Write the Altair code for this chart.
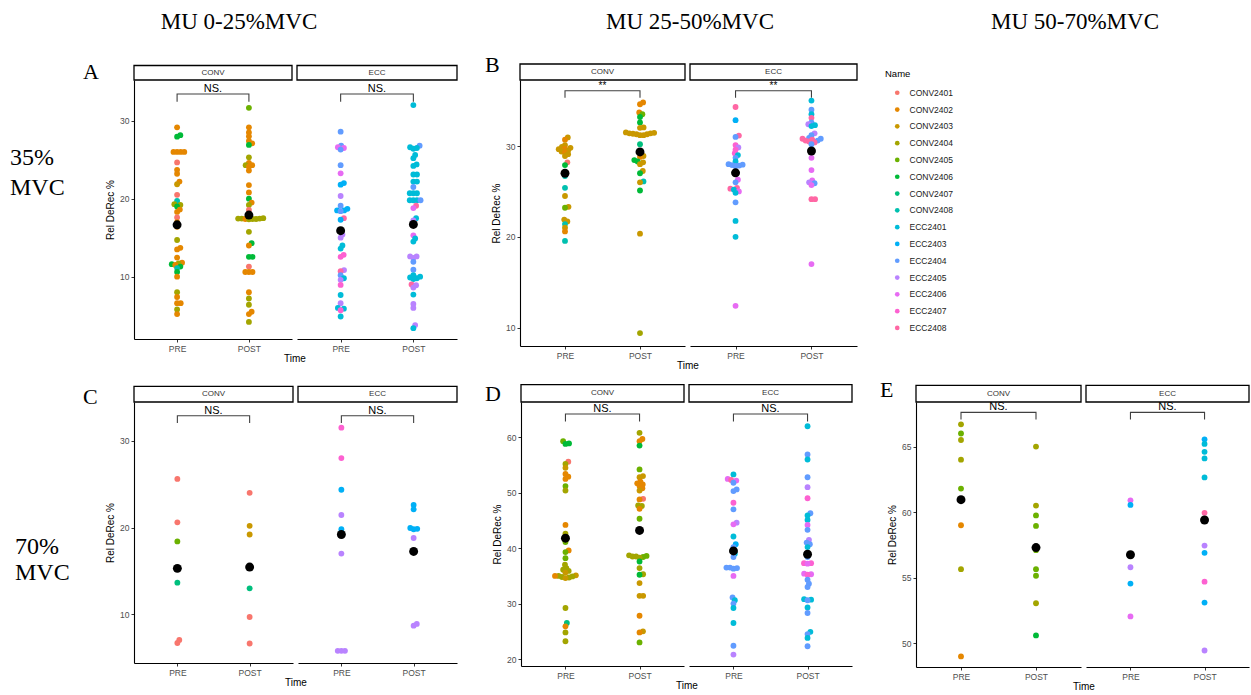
import math
import altair as alt
import pandas as pd

SANS = "Liberation Sans"
SERIF = "Liberation Serif"

NAMES = ["CONV2401", "CONV2402", "CONV2403", "CONV2404", "CONV2405", "CONV2406", "CONV2407", "CONV2408",
         "ECC2401", "ECC2403", "ECC2404", "ECC2405", "ECC2406", "ECC2407", "ECC2408"]
COLORS = ["#F8766D", "#E58700", "#C99800", "#A3A500", "#6BB100", "#00BA38", "#00BF7D", "#00C0AF",
          "#00BCD8", "#00B0F6", "#619CFF", "#B983FF", "#E76BF3", "#FD61D1", "#FF67A4"]
CODES = {"C1": "CONV2401", "C2": "CONV2402", "C3": "CONV2403", "C4": "CONV2404", "C5": "CONV2405",
         "C6": "CONV2406", "C7": "CONV2407", "C8": "CONV2408", "E1": "ECC2401", "E3": "ECC2403",
         "E4": "ECC2404", "E5": "ECC2405", "E6": "ECC2406", "E7": "ECC2407", "E8": "ECC2408"}
TIMES = ["PRE", "POST"]
GROUPS = ["CONV", "ECC"]

# ---------------- data (value, subject) ----------------
A_CONV_PRE = [(29.15, "C2"), (28.15, "C6"), (27.95, "C6"), (26.0, "C2"), (26.0, "C2"), (26.0, "C2"), (26.0, "C2"),
              (24.65, "C1"), (23.7, "C2"), (23.2, "C2"), (22.2, "C2"), (21.85, "C3"), (20.5, "C1"), (19.7, "C8"),
              (19.3, "C4"), (19.2, "C4"), (19.0, "C6"), (18.6, "C2"), (18.3, "C2"), (17.6, "C1"), (17.0, "C2"),
              (16.4, "C2"), (14.7, "C4"), (13.7, "C2"), (13.5, "C2"), (12.45, "C2"), (11.8, "C2"), (11.7, "C4"),
              (11.6, "C6"), (11.5, "C2"), (11.3, "C6"), (11.1, "C8"), (10.6, "C6"), (10.0, "C2"), (8.0, "C4"),
              (7.4, "C2"), (6.6, "C2"), (6.6, "C2"), (5.8, "C4"), (5.2, "C2")]
A_CONV_POST = [(31.65, "C5"), (29.15, "C2"), (28.5, "C2"), (28.0, "C2"), (27.4, "C2"), (27.1, "C2"), (26.9, "C6"),
               (25.3, "C4"), (24.6, "C2"), (24.3, "C2"), (24.3, "C4"), (24.1, "C2"), (23.6, "C2"), (21.75, "C2"),
               (20.8, "C2"), (20.0, "C6"), (19.5, "C2"), (19.2, "C4"), (18.55, "C1"), (17.5, "C4"), (17.45, "C4"),
               (17.45, "C4"), (17.45, "C4"), (17.4, "C4"), (17.4, "C2"), (17.4, "C4"), (17.35, "C4"),
               (15.75, "C4"), (14.3, "C6"), (14.0, "C2"),
               (12.55, "C6"), (12.55, "C6"), (11.3, "C1"), (10.6, "C2"), (10.6, "C2"), (10.6, "C2"), (8.0, "C2"),
               (7.2, "C4"), (6.4, "C4"), (5.5, "C2"), (5.2, "C2"), (4.2, "C4")]
A_ECC_PRE = [(28.6, "E4"), (26.8, "E4"), (26.6, "E6"), (26.5, "E6"), (26.3, "E4"), (24.3, "E4"), (23.25, "E6"),
             (22.0, "E3"), (21.8, "E3"), (20.35, "E5"), (19.1, "E4"), (18.7, "E3"), (18.5, "E3"), (18.5, "E3"),
             (18.4, "E4"), (17.5, "E8"), (17.3, "E3"), (15.4, "E5"), (15.0, "E5"), (14.0, "E1"), (13.6, "E1"),
             (12.8, "E7"), (12.55, "E7"), (10.85, "E5"), (10.7, "E8"), (10.2, "E4"), (9.8, "E1"), (9.6, "E5"),
             (8.95, "E7"), (7.65, "E1"), (6.6, "E5"), (6.0, "E1"), (5.9, "E1"), (5.7, "E7"), (4.9, "E1")]
A_ECC_POST = [(32.0, "E1"), (26.8, "E4"), (26.6, "E1"), (26.5, "E1"), (26.4, "E1"), (25.6, "E1"), (25.2, "E1"),
              (24.4, "E1"), (24.2, "E1"), (23.1, "E1"), (23.1, "E1"), (22.2, "E1"), (22.2, "E1"), (21.5, "E4"),
              (20.7, "E1"), (20.7, "E1"), (20.7, "E1"), (19.8, "E1"), (19.8, "E1"), (19.8, "E1"), (19.8, "E4"),
              (19.1, "E8"), (18.8, "E6"), (17.5, "E1"), (17.2, "E5"), (15.3, "E6"), (14.9, "E1"), (14.5, "E1"),
              (12.6, "E5"), (12.6, "E5"), (12.4, "E5"), (11.9, "E4"), (10.9, "E4"), (10.2, "E1"), (10.0, "E1"),
              (9.9, "E1"), (9.8, "E1"), (9.7, "E1"), (9.0, "E8"), (8.9, "E5"), (8.6, "E5"), (7.7, "E1"),
              (6.5, "E5"), (6.0, "E5"), (3.8, "E5"), (3.4, "E1")]
A_MEANS = [16.65, 17.9, 15.9, 16.7]

B_CONV_PRE = [(30.95, "C3"), (30.7, "C2"), (30.1, "C3"), (29.9, "C3"), (29.8, "C3"), (29.7, "C2"), (29.65, "C3"),
              (29.5, "C3"), (29.4, "C3"), (29.3, "C2"), (29.1, "C3"), (28.9, "C3"), (28.2, "C1"), (27.9, "C6"),
              (26.7, "C8"), (25.4, "C8"), (24.5, "C3"), (23.3, "C3"), (23.2, "C5"), (21.9, "C3"), (21.7, "C3"),
              (21.4, "C8"), (21.0, "C3"), (20.6, "C2"), (19.55, "C8")]
B_CONV_POST = [(34.8, "C2"), (34.6, "C2"), (33.7, "C2"), (33.5, "C5"), (33.2, "C6"), (32.6, "C6"), (32.05, "C3"),
               (32.0, "C3"), (31.5, "C3"), (31.45, "C3"), (31.4, "C3"), (31.4, "C3"), (31.35, "C3"), (31.3, "C3"),
               (31.3, "C3"), (31.2, "C3"), (31.2, "C3"), (30.2, "C7"), (28.9, "C3"), (28.8, "C2"), (28.45, "C6"),
               (28.3, "C6"), (28.2, "C3"), (28.0, "C3"), (27.25, "C3"), (27.0, "C6"), (26.1, "C8"), (26.0, "C3"),
               (25.1, "C6"), (20.35, "C3"), (9.4, "C4")]
B_ECC_PRE = [(34.3, "E8"), (32.85, "E3"), (31.15, "E8"), (31.0, "E4"), (30.1, "E7"), (29.85, "E5"), (29.6, "E7"),
             (29.2, "E7"), (29.0, "E1"), (28.7, "E4"), (28.3, "E1"), (28.0, "E4"), (27.95, "E4"), (27.9, "E4"),
             (27.85, "E4"), (27.8, "E4"), (26.3, "E6"), (26.0, "E4"), (25.4, "E8"), (25.3, "E8"), (25.2, "E1"),
             (25.0, "E6"), (24.85, "E1"), (23.8, "E4"), (21.75, "E1"), (20.0, "E1"), (12.4, "E6")]
B_ECC_POST = [(35.0, "E1"), (34.0, "E4"), (33.5, "E1"), (33.1, "E8"), (32.6, "E4"), (32.4, "E5"), (32.3, "E1"),
              (32.2, "E1"), (31.4, "E5"), (31.2, "E4"), (30.9, "E4"), (30.8, "E8"), (30.8, "E4"), (30.7, "E8"),
              (30.6, "E8"), (30.6, "E4"), (30.5, "E8"), (30.4, "E8"), (30.2, "E4"), (29.3, "E4"), (28.7, "E6"),
              (27.35, "E6"), (26.2, "E6"), (26.0, "E5"), (25.9, "E4"), (25.7, "E6"), (24.15, "E8"), (24.15, "E8"),
              (17.0, "E6")]
B_MEANS = [27.0, 29.35, 27.05, 29.45]

C_CONV_PRE = [(25.6, "C1"), (20.6, "C1"), (18.4, "C5"), (13.65, "C7"), (7.05, "C1"), (6.7, "C1")]
C_CONV_POST = [(24.0, "C1"), (20.2, "C3"), (19.2, "C3"), (13.0, "C7"), (9.7, "C1"), (6.65, "C1")]
C_ECC_PRE = [(31.5, "E7"), (28.0, "E7"), (24.35, "E3"), (21.45, "E5"), (19.8, "E3"), (17.0, "E5"),
             (5.8, "E5"), (5.8, "E5"), (5.8, "E5")]
C_ECC_POST = [(22.6, "E3"), (22.1, "E3"), (19.95, "E3"), (19.85, "E3"), (19.8, "E3"), (18.8, "E5"),
              (8.9, "E5"), (8.7, "E5")]
C_MEANS = [15.3, 15.45, 19.2, 17.25]

D_CONV_PRE = [(59.3, "C5"), (58.9, "C6"), (58.8, "C6"), (55.6, "C1"), (55.2, "C4"), (54.5, "C3"), (53.4, "C2"),
              (52.9, "C2"), (52.5, "C2"), (51.2, "C5"), (50.4, "C4"), (44.2, "C2"), (42.6, "C4"), (41.1, "C5"),
              (39.6, "C2"), (39.3, "C5"), (38.2, "C5"), (37.0, "C4"), (36.4, "C4"), (36.1, "C4"), (35.9, "C4"),
              (35.6, "C3"), (35.1, "C3"), (35.0, "C4"), (35.0, "C2"), (34.9, "C4"), (34.8, "C4"), (34.7, "C4"),
              (34.6, "C3"), (29.2, "C4"), (26.5, "C7"), (25.9, "C2"), (24.8, "C4"), (23.2, "C4")]
D_CONV_POST = [(60.8, "C4"), (59.7, "C2"), (59.3, "C2"), (58.5, "C6"), (54.2, "C5"), (53.0, "C3"), (52.8, "C3"),
               (52.0, "C2"), (51.7, "C2"), (51.5, "C2"), (51.2, "C2"), (50.8, "C2"), (50.4, "C3"), (48.9, "C1"),
               (48.8, "C2"), (47.7, "C4"), (47.6, "C4"), (47.1, "C2"), (45.3, "C5"), (38.7, "C4"), (38.6, "C5"),
               (38.5, "C4"), (38.5, "C4"), (38.4, "C5"), (38.3, "C4"), (37.6, "C6"), (36.4, "C4"), (35.3, "C4"),
               (35.2, "C6"), (33.7, "C3"), (31.4, "C3"), (31.4, "C3"), (27.8, "C2"), (25.0, "C3"), (24.8, "C2"),
               (23.0, "C5")]
D_ECC_PRE = [(53.3, "E1"), (52.5, "E6"), (52.3, "E8"), (52.2, "E6"), (51.8, "E4"), (50.6, "E4"), (50.3, "E4"),
             (48.2, "E7"), (47.0, "E4"), (44.6, "E5"), (44.3, "E6"), (42.1, "E1"), (40.7, "E3"), (40.2, "E4"),
             (39.0, "E1"), (38.4, "E4"), (36.5, "E4"), (36.5, "E4"), (36.4, "E4"), (36.3, "E4"), (35.0, "E6"),
             (31.1, "E4"), (30.6, "E1"), (30.0, "E4"), (29.2, "E1"), (26.5, "E1"), (22.4, "E4"), (20.8, "E5")]
D_ECC_POST = [(62.0, "E1"), (56.9, "E4"), (56.0, "E1"), (52.8, "E4"), (51.0, "E5"), (49.0, "E7"), (46.3, "E4"),
              (45.9, "E1"), (45.1, "E1"), (44.2, "E6"), (43.3, "E4"), (41.5, "E5"), (41.0, "E4"), (40.7, "E4"),
              (40.2, "E1"), (38.4, "E4"), (37.3, "E7"), (37.3, "E7"), (37.2, "E6"), (35.4, "E6"), (35.3, "E6"),
              (35.2, "E7"), (34.3, "E4"), (33.6, "E4"), (33.0, "E4"), (30.8, "E1"), (30.7, "E1"), (30.6, "E4"),
              (29.3, "E1"), (28.3, "E4"), (24.9, "E1"), (24.5, "E4"), (23.8, "E1"), (22.3, "E4")]
D_MEANS = [41.8, 43.2, 39.5, 38.9]

E_CONV_PRE = [(66.7, "C4"), (66.0, "C5"), (65.5, "C4"), (64.0, "C4"), (61.8, "C5"), (59.0, "C2"), (55.65, "C4"),
              (49.0, "C2")]
E_CONV_POST = [(65.0, "C4"), (60.5, "C4"), (59.75, "C5"), (58.95, "C5"), (57.1, "C5"), (55.65, "C5"),
               (55.15, "C5"), (53.05, "C4"), (50.6, "C6")]
E_ECC_PRE = [(60.9, "E6"), (60.55, "E3"), (55.8, "E5"), (54.55, "E3"), (52.05, "E6")]
E_ECC_POST = [(65.55, "E3"), (65.2, "E1"), (64.6, "E1"), (64.1, "E1"), (62.65, "E1"), (59.95, "E8"),
              (57.45, "E5"), (56.9, "E3"), (54.7, "E7"), (53.1, "E3"), (49.45, "E5")]
E_MEANS = [60.95, 57.3, 56.75, 59.4]

DATA = {
    "A": ((A_CONV_PRE, A_CONV_POST), (A_ECC_PRE, A_ECC_POST), A_MEANS),
    "B": ((B_CONV_PRE, B_CONV_POST), (B_ECC_PRE, B_ECC_POST), B_MEANS),
    "C": ((C_CONV_PRE, C_CONV_POST), (C_ECC_PRE, C_ECC_POST), C_MEANS),
    "D": ((D_CONV_PRE, D_CONV_POST), (D_ECC_PRE, D_ECC_POST), D_MEANS),
    "E": ((E_CONV_PRE, E_CONV_POST), (E_ECC_PRE, E_ECC_POST), E_MEANS),
}
SIG = {"A": "NS.", "B": "**", "C": "NS.", "D": "NS.", "E": "NS."}
BRACKET = {"A": (32.44, 33.42), "B": (35.32, 36.09), "C": (32.03, 32.88), "D": (62.83, 64.2), "E": (67.06, 67.61)}
TICKS = {"A": [10, 20, 30], "B": [10, 20, 30], "C": [10, 20, 30], "D": [20, 30, 40, 50, 60], "E": [50, 55, 60, 65]}
YDOM = {"A": (2.01, 35.22), "B": (7.98, 37.27), "C": (4.40, 34.46), "D": (18.74, 66.37), "E": (48.19, 68.40)}

# ---------------- layout ----------------
WIDTHS = {"A": (158, 160), "B": (165, 167), "C": (159, 159), "D": (163, 163), "E": (165, 163)}
HEIGHTS = {"A": 259, "B": 266, "C": 261, "D": 264, "E": 265}
STRIP = {"A": 14.5, "B": 16, "C": 15.7, "D": 17.3, "E": 16.7}
SWARM_SPACING = 3.6

ANNOT = {
    ("A", 0): [("MU 0-25%MVC", 105, -51, 23, "center"), ("A", -51, -1, 22, "left"),
               ("35%", -124, 85, 24, "left"), ("MVC", -124, 115, 24, "left")],
    ("B", 0): [("MU 25-50%MVC", 170, -51, 23, "center"), ("B", -35, -8, 22, "left")],
    ("B", 1): [("MU 50-70%MVC", 385, -51, 23, "center")],
    ("C", 0): [("C", -51, 2, 22, "left"), ("70%", -119, 152, 24, "left"), ("MVC", -119, 178, 24, "left")],
    ("D", 0): [("D", -36, -1, 22, "left")],
    ("E", 0): [("E", -36, -5, 22, "left")],
}

LEGEND = alt.Legend(orient="none", legendX=751, legendY=-11, title="Name", titleFont=SANS, titleFontSize=9.5,
                    titleFontWeight="normal", titleColor="black", titlePadding=10, labelFont=SANS,
                    labelFontSize=8.5, labelColor="#1a1a1a", symbolType="circle", symbolSize=22,
                    symbolOpacity=1, symbolStrokeWidth=0, rowPadding=7.8, symbolOffset=8, labelOffset=8,
                    padding=0)


def swarm(vals, py, px, d=SWARM_SPACING):
    idx = sorted(range(len(vals)), key=lambda i: (vals[i], i))
    placed = []
    out = [0.0] * len(vals)
    for i in idx:
        y = vals[i] * py
        cands = [0.0]
        for (xj, yj) in placed:
            dy = y - yj
            if abs(dy) < d:
                dx = math.sqrt(d * d - dy * dy)
                cands.extend([xj + dx, xj - dx])
        cands.sort(key=lambda c: (round(abs(c), 6), c < 0))
        chosen = cands[-1]
        for c in cands:
            if all((c - xj) ** 2 + (y - yj) ** 2 >= d * d - 1e-6 for (xj, yj) in placed):
                chosen = c
                break
        placed.append((chosen, y))
        out[i] = chosen / px
    return out


def subpanel(key, gi):
    w = WIDTHS[key][gi]
    h = HEIGHTS[key]
    ymin, ymax = YDOM[key]
    strip = STRIP[key]
    pre, post = DATA[key][gi]
    means = DATA[key][2][gi * 2: gi * 2 + 2]
    px_x = w / 2.2
    px_y = h / (ymax - ymin)

    rows = []
    for t, pts in ((1, pre), (2, post)):
        offs = swarm([v for v, _ in pts], px_y, px_x)
        for (v, c), o in zip(pts, offs):
            rows.append({"x": t + o, "y": v, "Name": CODES[c], "Time": TIMES[t - 1]})
    pts_df = pd.DataFrame(rows)
    mean_df = pd.DataFrame({"x": [1, 2], "y": means})
    lo, hi = BRACKET[key]
    br_df = pd.DataFrame({"x": [1, 1, 2, 2], "y": [lo, hi, hi, lo], "o": [0, 1, 2, 3]})
    sig_df = pd.DataFrame({"x": [1.5], "y": [hi], "s": [SIG[key]]})

    xscale = alt.Scale(domain=[0.4, 2.6], nice=False, zero=False)
    yscale = alt.Scale(domain=[ymin, ymax], nice=False, zero=False)
    xkw = dict(values=[1, 2], labelExpr="datum.value == 1 ? 'PRE' : 'POST'", labelFont=SANS,
               labelFontSize=8.5, labelColor="#4D4D4D", tickColor="#333333", tickSize=3, tickWidth=1,
               domainColor="#000000", domainWidth=1.1, labelPadding=2, grid=False,
               titleFont=SANS, titleFontSize=10, titleFontWeight="normal", titleColor="#000000",
               titlePadding=1)
    if gi == 0:
        xkw["title"] = "Time"
        xkw["titleX"] = w + 2.5
    else:
        xkw["title"] = None
    xax = alt.Axis(**xkw)
    if gi == 0:
        yax = alt.Axis(values=TICKS[key], format="d", title="Rel DeRec %", labelFont=SANS, labelFontSize=8.5,
                       labelColor="#4D4D4D", tickColor="#333333", tickSize=3, tickWidth=1,
                       domainColor="#000000", domainWidth=1.1, labelPadding=2, grid=False,
                       titleFont=SANS, titleFontSize=10, titleFontWeight="normal", titleColor="#000000",
                       titlePadding=4)
    else:
        yax = None
    X = alt.X("x:Q", scale=xscale, axis=xax)
    Y = alt.Y("y:Q", scale=yscale, axis=yax)

    lab_df = pd.DataFrame({"label": [GROUPS[gi]]})
    layers = [
        alt.Chart(lab_df).mark_rect(fill="white", stroke="black", strokeWidth=1.3).encode(
            x=alt.value(0), x2=alt.value(w), y=alt.value(-strip), y2=alt.value(0)),
        alt.Chart(lab_df).mark_text(font=SANS, fontSize=8, color="#333333", baseline="middle").encode(
            x=alt.value(w / 2), y=alt.value(-strip / 2), text="label:N"),
        alt.Chart(br_df).mark_line(color="#404040", strokeWidth=1.1).encode(x=X, y=Y, order=alt.Order("o:Q")),
        alt.Chart(sig_df).mark_text(font=SANS, fontSize=11 if SIG[key] != "**" else 10, color="black",
                                    baseline="alphabetic", dy=-2).encode(x=X, y=Y, text="s:N"),
        alt.Chart(pts_df).mark_circle(size=34, opacity=1).encode(
            x=X, y=Y, color=alt.Color("Name:N", scale=alt.Scale(domain=NAMES, range=COLORS), legend=LEGEND)),
        alt.Chart(mean_df).mark_circle(size=80, opacity=1, color="black").encode(x=X, y=Y),
    ]
    for (txt, tx, ty, fs, al) in ANNOT.get((key, gi), []):
        layers.append(
            alt.Chart(pd.DataFrame({"t": [txt]})).mark_text(font=SERIF, fontSize=fs, color="black",
                                                           align=al, baseline="alphabetic").encode(
                x=alt.value(tx), y=alt.value(ty), text="t:N"))
    return alt.layer(*layers).properties(width=w, height=h)


def panel(key):
    return alt.hconcat(subpanel(key, 0), subpanel(key, 1), spacing=5, bounds="flush")


row1 = alt.hconcat(panel("A"), panel("B"), spacing=27)
row2 = alt.hconcat(panel("C"), panel("D"), panel("E"), spacing=27)
chart = alt.vconcat(row1, row2, spacing=8).properties(
    padding={"left": 10, "top": 11, "right": 0, "bottom": 0}, background="white"
).configure_view(stroke=None)

chart.save("out.html", embed_options={"renderer": "svg", "actions": False})
